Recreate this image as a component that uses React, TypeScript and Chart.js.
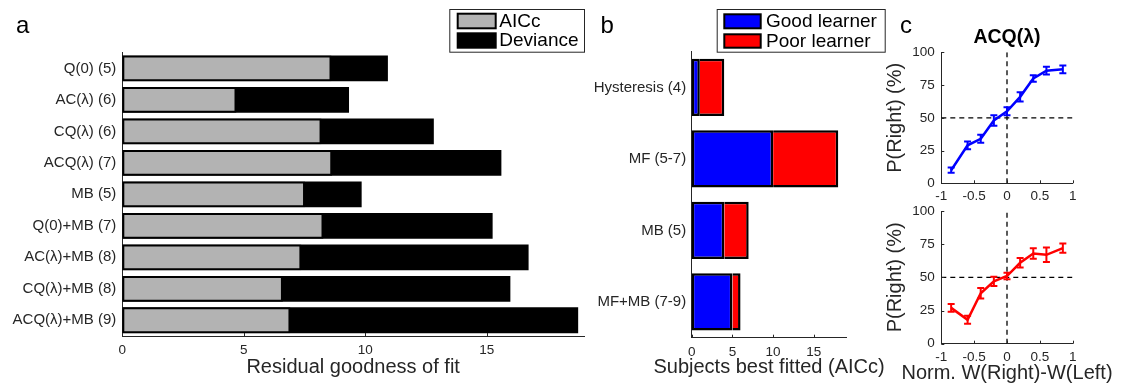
import React, { useEffect, useRef } from "react";
import { Chart, registerables } from "chart.js";

Chart.register(...registerables);

const FONT = "'Liberation Sans', Arial, Helvetica, sans-serif";
const TXT = "#262626";
Chart.defaults.font.family = FONT;
Chart.defaults.color = TXT;

// ---------- Panel a: residual goodness of fit per model ----------
const modelLabels = [
  "Q(0) (5)",
  "AC(λ) (6)",
  "CQ(λ) (6)",
  "ACQ(λ) (7)",
  "MB (5)",
  "Q(0)+MB (7)",
  "AC(λ)+MB (8)",
  "CQ(λ)+MB (8)",
  "ACQ(λ)+MB (9)",
];
const aiccValues = [8.61, 4.7, 8.2, 8.64, 7.52, 8.28, 7.37, 6.61, 6.92];
const devianceValues = [10.93, 9.33, 12.82, 15.6, 9.85, 15.24, 16.72, 15.97, 18.76];
const fitTicks = [0, 5, 10, 15];
const fitMax = 19;

// ---------- Panel b: subjects best fitted ----------
const familyLabels = ["Hysteresis (4)", "MF (5-7)", "MB (5)", "MF+MB (7-9)"];
const goodLearners = [1, 10, 4, 5];
const poorLearners = [3, 8, 3, 1];
const countTicks = [0, 5, 10, 15];
const countMax = 19;

// ---------- Panel c: psychometric curves ACQ(λ) ----------
const wDiff = [-0.85, -0.6, -0.4, -0.2, 0, 0.2, 0.4, 0.6, 0.85];
const goodPRight = [10, 29, 34, 48, 55, 66, 80, 86, 87];
const goodErr = [2, 3, 3, 4, 3, 3.5, 2.5, 3, 3];
const poorPRight = [27, 18, 38, 47, 51, 61, 68, 67, 72];
const poorErr = [3, 3, 4, 3.5, 2.5, 3.5, 4, 5.5, 3.5];
const wTicks = [-1, -0.5, 0, 0.5, 1];
const pTicks = [0, 25, 50, 75, 100];
const chanceLevel = 50;
const neutralDiff = 0;

const setTicks = (vals: number[]) => (scale: any) => {
  scale.ticks = vals.map((v) => ({ value: v }));
};

function drawLetter(ctx: CanvasRenderingContext2D, ch: string, x: number, y: number) {
  ctx.save();
  ctx.fillStyle = "#000";
  ctx.font = `24px ${FONT}`;
  ctx.textBaseline = "alphabetic";
  ctx.textAlign = "left";
  ctx.fillText(ch, x, y);
  ctx.restore();
}

function drawXTitle(chart: any, text: string, y: number) {
  const ctx = chart.ctx;
  const a = chart.chartArea;
  ctx.save();
  ctx.fillStyle = TXT;
  ctx.font = `20px ${FONT}`;
  ctx.textAlign = "center";
  ctx.textBaseline = "middle";
  ctx.fillText(text, (a.left + a.right) / 2, y);
  ctx.restore();
}

function drawInwardTicks(chart: any, doY: boolean) {
  const ctx = chart.ctx;
  const a = chart.chartArea;
  ctx.save();
  ctx.strokeStyle = TXT;
  ctx.lineWidth = 1;
  const sx = chart.scales.x;
  if (sx.type === "linear") {
    sx.ticks.forEach((t: any) => {
      const px = Math.round(sx.getPixelForValue(t.value)) + 0.5;
      ctx.beginPath();
      ctx.moveTo(px, a.bottom);
      ctx.lineTo(px, a.bottom - 3);
      ctx.stroke();
    });
  }
  if (doY) {
    const sy = chart.scales.y;
    sy.ticks.forEach((t: any) => {
      const py = Math.round(sy.getPixelForValue(t.value)) + 0.5;
      ctx.beginPath();
      ctx.moveTo(a.left, py);
      ctx.lineTo(a.left + 3, py);
      ctx.stroke();
    });
  }
  ctx.restore();
}

function drawLegend(
  ctx: CanvasRenderingContext2D,
  box: [number, number, number, number],
  items: { label: string; fill: string; y0: number; y1: number }[],
  swX0: number,
  swX1: number,
  textX: number
) {
  ctx.save();
  ctx.fillStyle = "#fff";
  ctx.fillRect(box[0], box[1], box[2] - box[0], box[3] - box[1]);
  ctx.strokeStyle = TXT;
  ctx.lineWidth = 1;
  ctx.strokeRect(box[0] + 0.5, box[1] + 0.5, box[2] - box[0] - 1, box[3] - box[1] - 1);
  items.forEach((it) => {
    ctx.fillStyle = "#000";
    ctx.fillRect(swX0, it.y0, swX1 - swX0, it.y1 - it.y0);
    ctx.fillStyle = it.fill;
    ctx.fillRect(swX0 + 2, it.y0 + 2, swX1 - swX0 - 4, it.y1 - it.y0 - 4);
    ctx.fillStyle = "#000";
    ctx.font = `19px ${FONT}`;
    ctx.textBaseline = "middle";
    ctx.textAlign = "left";
    ctx.fillText(it.label, textX, (it.y0 + it.y1) / 2 + 0.5);
  });
  ctx.restore();
}

function useChart(ref: React.RefObject<HTMLCanvasElement | null>, make: () => any) {
  useEffect(() => {
    if (!ref.current) return;
    const chart = new Chart(ref.current, make());
    return () => chart.destroy();
  }, []);
}

const axisBorder = { display: true, color: TXT, width: 1 };
const noGrid = { display: false, drawTicks: false };

function PanelA() {
  const ref = useRef<HTMLCanvasElement>(null);
  useChart(ref, () => ({
    type: "bar",
    data: {
      labels: modelLabels,
      datasets: [
        {
          label: "AICc",
          data: aiccValues,
          backgroundColor: "#b3b3b3",
          borderColor: "#000",
          borderWidth: 2,
          borderSkipped: false,
          grouped: false,
          order: 1,
          barPercentage: 0.82,
          categoryPercentage: 1,
        },
        {
          label: "Deviance",
          data: devianceValues,
          backgroundColor: "#000",
          borderWidth: 0,
          grouped: false,
          order: 2,
          barPercentage: 0.82,
          categoryPercentage: 1,
        },
      ],
    },
    options: {
      indexAxis: "y",
      responsive: false,
      animation: false,
      devicePixelRatio: 1,
      layout: { padding: { left: 0, right: 16, top: 52.7, bottom: 0 } },
      plugins: { legend: { display: false }, tooltip: { enabled: false } },
      scales: {
        x: {
          type: "linear",
          min: 0,
          max: fitMax,
          afterBuildTicks: setTicks(fitTicks),
          afterFit: (s: any) => {
            s.height = 49;
          },
          grid: noGrid,
          border: axisBorder,
          ticks: { font: { size: 13.5 }, color: TXT, padding: 6.5 },
        },
        y: {
          type: "category",
          afterFit: (s: any) => {
            s.width = 122.3;
          },
          grid: noGrid,
          border: axisBorder,
          ticks: { font: { size: 15 }, color: TXT, padding: 6, autoSkip: false },
        },
      },
    },
    plugins: [
      {
        id: "panelA",
        afterDraw(chart: any) {
          const ctx = chart.ctx;
          drawInwardTicks(chart, false);
          drawXTitle(chart, "Residual goodness of fit", 367.5);
          drawLetter(ctx, "a", 16, 33);
          drawLegend(
            ctx,
            [449.3, 9, 585, 52.7],
            [
              { label: "AICc", fill: "#b3b3b3", y0: 12.7, y1: 29.3 },
              { label: "Deviance", fill: "#000", y0: 32.3, y1: 48.7 },
            ],
            456.7,
            496.7,
            499.3
          );
        },
      },
    ],
  }));
  return (
    <canvas
      ref={ref}
      width={600}
      height={385}
      style={{ position: "absolute", left: 0, top: 0, width: 600, height: 385 }}
    />
  );
}

function PanelB() {
  const ref = useRef<HTMLCanvasElement>(null);
  const OX = 590;
  useChart(ref, () => ({
    type: "bar",
    data: {
      labels: familyLabels,
      datasets: [
        {
          label: "Good learner",
          data: goodLearners,
          backgroundColor: "#0000ff",
          borderColor: "#000",
          borderWidth: 2.5,
          borderSkipped: false,
          barPercentage: 0.8,
          categoryPercentage: 1,
        },
        {
          label: "Poor learner",
          data: poorLearners,
          backgroundColor: "#ff0000",
          borderColor: "#000",
          borderWidth: 2.5,
          borderSkipped: "left",
          barPercentage: 0.8,
          categoryPercentage: 1,
        },
      ],
    },
    options: {
      indexAxis: "y",
      responsive: false,
      animation: false,
      devicePixelRatio: 1,
      layout: { padding: { left: 0, right: 300 - (846.4 - OX), top: 51.7, bottom: 0 } },
      plugins: { legend: { display: false }, tooltip: { enabled: false } },
      scales: {
        x: {
          type: "linear",
          stacked: true,
          min: 0,
          max: countMax,
          afterBuildTicks: setTicks(countTicks),
          afterFit: (s: any) => {
            s.height = 47.3;
          },
          grid: noGrid,
          border: axisBorder,
          ticks: { font: { size: 13.5 }, color: TXT, padding: 6 },
        },
        y: {
          type: "category",
          stacked: true,
          afterFit: (s: any) => {
            s.width = 691.7 - OX;
          },
          grid: noGrid,
          border: axisBorder,
          ticks: { font: { size: 15 }, color: TXT, padding: 5.5, autoSkip: false },
        },
      },
    },
    plugins: [
      {
        id: "panelB",
        afterDraw(chart: any) {
          const ctx = chart.ctx;
          drawInwardTicks(chart, false);
          drawXTitle(chart, "Subjects best fitted (AICc)", 367.5);
          drawLetter(ctx, "b", 600.5 - OX, 33);
          drawLegend(
            ctx,
            [716.7 - OX, 9, 885.7 - OX, 52.7],
            [
              { label: "Good learner", fill: "#0000ff", y0: 13.3, y1: 29.3 },
              { label: "Poor learner", fill: "#ff0000", y0: 33.3, y1: 48.7 },
            ],
            723.3 - OX,
            761.7 - OX,
            766 - OX
          );
        },
      },
    ],
  }));
  return (
    <canvas
      ref={ref}
      width={300}
      height={385}
      style={{ position: "absolute", left: OX, top: 0, width: 300, height: 385 }}
    />
  );
}

function errorBarPlugin(xs: number[], ys: number[], errs: number[], color: string) {
  return {
    id: "errbars",
    afterDatasetsDraw(chart: any) {
      const { ctx } = chart;
      const sx = chart.scales.x;
      const sy = chart.scales.y;
      ctx.save();
      ctx.strokeStyle = color;
      ctx.lineWidth = 2;
      xs.forEach((xv, i) => {
        const px = sx.getPixelForValue(xv);
        const top = sy.getPixelForValue(ys[i] + errs[i]);
        const bot = sy.getPixelForValue(ys[i] - errs[i]);
        ctx.beginPath();
        ctx.moveTo(px, top);
        ctx.lineTo(px, bot);
        ctx.moveTo(px - 3.5, top);
        ctx.lineTo(px + 3.5, top);
        ctx.moveTo(px - 3.5, bot);
        ctx.lineTo(px + 3.5, bot);
        ctx.stroke();
      });
      ctx.restore();
    },
  };
}

function psychConfig(opts: {
  ys: number[];
  errs: number[];
  color: string;
  padTop: number;
  xAxisHeight: number;
  extra: any;
}) {
  const dashed = {
    borderColor: "#000",
    borderWidth: 1.3,
    borderDash: [5, 4],
    pointRadius: 0,
    fill: false,
    order: 2,
  };
  const padLeft = 33;
  return {
    type: "line",
    data: {
      datasets: [
        {
          data: wDiff.map((x, i) => ({ x, y: opts.ys[i] })),
          borderColor: opts.color,
          borderWidth: 2.5,
          pointRadius: 0,
          tension: 0,
          fill: false,
          order: 1,
        },
        {
          ...dashed,
          data: [
            { x: wTicks[0], y: chanceLevel },
            { x: wTicks[wTicks.length - 1], y: chanceLevel },
          ],
        },
        {
          ...dashed,
          data: [
            { x: neutralDiff, y: pTicks[0] },
            { x: neutralDiff, y: pTicks[pTicks.length - 1] },
          ],
        },
      ],
    },
    options: {
      responsive: false,
      animation: false,
      devicePixelRatio: 1,
      layout: { padding: { left: padLeft, right: 275 - (1072.7 - 850), top: opts.padTop, bottom: 0 } },
      plugins: { legend: { display: false }, tooltip: { enabled: false } },
      scales: {
        x: {
          type: "linear",
          min: wTicks[0],
          max: wTicks[wTicks.length - 1],
          afterBuildTicks: setTicks(wTicks),
          afterFit: (s: any) => {
            s.height = opts.xAxisHeight;
          },
          grid: noGrid,
          border: axisBorder,
          ticks: { font: { size: 13.5 }, color: TXT, padding: 5, callback: (v: any) => String(v) },
        },
        y: {
          type: "linear",
          min: pTicks[0],
          max: pTicks[pTicks.length - 1],
          afterBuildTicks: setTicks(pTicks),
          afterFit: (s: any) => {
            s.width = 941.3 - 850 - padLeft;
          },
          grid: noGrid,
          border: axisBorder,
          ticks: { font: { size: 13.5 }, color: TXT, padding: 6.5, callback: (v: any) => String(v) },
          title: {
            display: true,
            text: "P(Right) (%)",
            font: { size: 20 },
            color: TXT,
            padding: { top: 0, bottom: 0 },
          },
        },
      },
    },
    plugins: [
      errorBarPlugin(wDiff, opts.ys, opts.errs, opts.color),
      {
        id: "ticksC",
        afterDraw(chart: any) {
          drawInwardTicks(chart, true);
        },
      },
      opts.extra,
    ],
  };
}

function PanelCTop() {
  const ref = useRef<HTMLCanvasElement>(null);
  useChart(ref, () =>
    psychConfig({
      ys: goodPRight,
      errs: goodErr,
      color: "#0000ff",
      padTop: 52.3,
      xAxisHeight: 200 - 183.3,
      extra: {
        id: "titleC",
        afterDraw(chart: any) {
          const ctx = chart.ctx;
          drawLetter(ctx, "c", 900 - 850, 33);
          const a = chart.chartArea;
          ctx.save();
          ctx.fillStyle = "#000";
          ctx.font = `bold 19.5px ${FONT}`;
          ctx.textAlign = "center";
          ctx.textBaseline = "middle";
          ctx.fillText("ACQ(λ)", (a.left + a.right) / 2, 37.5);
          ctx.restore();
        },
      },
    })
  );
  return (
    <canvas
      ref={ref}
      width={275}
      height={200}
      style={{ position: "absolute", left: 850, top: 0, width: 275, height: 200 }}
    />
  );
}

function PanelCBottom() {
  const ref = useRef<HTMLCanvasElement>(null);
  useChart(ref, () =>
    psychConfig({
      ys: poorPRight,
      errs: poorErr,
      color: "#ff0000",
      padTop: 16,
      xAxisHeight: 190 - 148.7,
      extra: {
        id: "xTitleC",
        afterDraw(chart: any) {
          drawXTitle(chart, "Norm. W(Right)-W(Left)", 373.5 - 195);
        },
      },
    })
  );
  return (
    <canvas
      ref={ref}
      width={275}
      height={190}
      style={{ position: "absolute", left: 850, top: 195, width: 275, height: 190 }}
    />
  );
}

export default function App() {
  return (
    <div
      style={{
        position: "absolute",
        left: 0,
        top: 0,
        width: 1125,
        height: 385,
        background: "#fff",
        overflow: "hidden",
      }}
    >
      <PanelA />
      <PanelB />
      <PanelCTop />
      <PanelCBottom />
    </div>
  );
}
